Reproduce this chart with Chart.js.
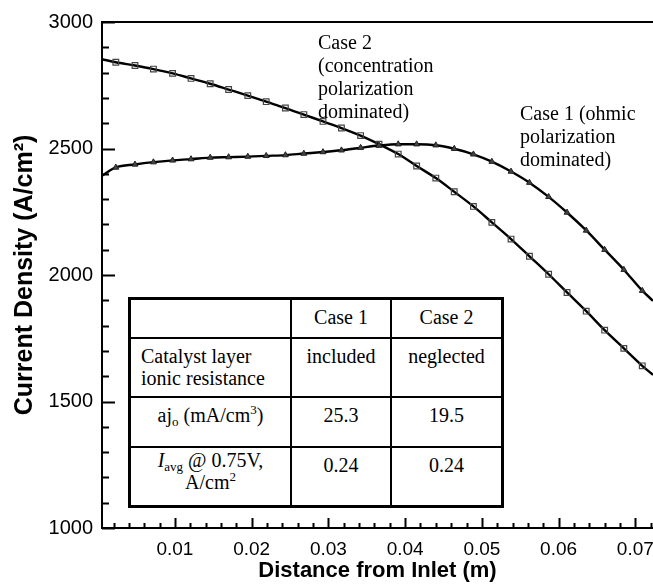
<!DOCTYPE html>
<html>
<head>
<meta charset="utf-8">
<script src="https://cdn.jsdelivr.net/npm/chart.js@4.4.0/dist/chart.umd.min.js"></script>
<style>
  html, body { margin: 0; padding: 0; background: #fff; }
  #wrap { position: relative; width: 653px; height: 584px; overflow: hidden; }
  #chart { position: absolute; left: 0; top: 0; }
  .note {
    position: absolute; font-family: "Liberation Serif", "Times New Roman", serif;
    font-size: 20px; line-height: 23px; white-space: nowrap; color: #000;
  }
  #tbl {
    position: absolute; left: 128px; top: 297px; width: 376px; height: 211px;
    box-sizing: border-box; border: 3px solid #000; background: #fff;
    font-family: "Liberation Serif", "Times New Roman", serif; font-size: 20px; line-height: 22px; color: #000;
  }
  #tbl .vl { position: absolute; top: 0; bottom: 0; width: 2px; background: #000; }
  #tbl .hl { position: absolute; left: 0; right: 0; height: 2px; background: #000; }
  #tbl .cell { position: absolute; text-align: center; white-space: nowrap; padding-top: 6px; box-sizing: border-box; }
  #tbl sub, #tbl sup { font-size: 13px; line-height: 0; vertical-align: 0; position: relative; }
  #tbl sub { top: 4px; }
  #tbl sup { top: -8px; }
</style>
</head>
<body>
<div id="wrap">
  <canvas id="chart" width="653" height="584"></canvas>

  <div class="note" style="left:318px; top:31px;">Case 2<br>(concentration<br>polarization<br>dominated)</div>
  <div class="note" style="left:520px; top:102px;">Case 1 (ohmic<br>polarization<br>dominated)</div>

  <div id="tbl">
    <div class="vl" style="left:159px;"></div>
    <div class="vl" style="left:259px;"></div>
    <div class="hl" style="top:37px;"></div>
    <div class="hl" style="top:96px;"></div>
    <div class="hl" style="top:146px;"></div>

    <div class="cell" style="left:161px; width:98px; top:0;">Case 1</div>
    <div class="cell" style="left:261px; width:109px; top:0;">Case 2</div>

    <div class="cell" style="left:10px; top:39px; text-align:left;">Catalyst layer<br>ionic resistance</div>
    <div class="cell" style="left:161px; width:98px; top:39px;">included</div>
    <div class="cell" style="left:261px; width:109px; top:39px;">neglected</div>

    <div class="cell" style="left:0; width:159px; top:98px;">aj<sub>o</sub> (mA/cm<sup>3</sup>)</div>
    <div class="cell" style="left:161px; width:98px; top:98px;">25.3</div>
    <div class="cell" style="left:261px; width:109px; top:98px;">19.5</div>

    <div class="cell" style="left:0; width:159px; top:148px; padding-top:1px;"><i>I</i><sub>avg</sub> @ 0.75V,<br>A/cm<sup>2</sup></div>
    <div class="cell" style="left:161px; width:98px; top:148px;">0.24</div>
    <div class="cell" style="left:261px; width:109px; top:148px;">0.24</div>
  </div>
</div>

<script>
// distance from inlet (m); first and last entries are the curve ends, the rest carry markers
const distance = [
  0.0005, 0.0023, 0.0048, 0.0072, 0.0097, 0.0121, 0.0146, 0.0170, 0.0195, 0.0219,
  0.0244, 0.0268, 0.0293, 0.0317, 0.0342, 0.0366, 0.0391, 0.0415, 0.0440, 0.0464,
  0.0489, 0.0513, 0.0538, 0.0562, 0.0587, 0.0611, 0.0636, 0.0660, 0.0685, 0.0709,
  0.0723
];

// Case 1 (ohmic polarization dominated), A/cm2
const case1Density = [
  2392, 2425, 2437, 2446, 2453, 2458, 2464, 2466, 2468, 2471,
  2474, 2480, 2486, 2493, 2503, 2512, 2517, 2517, 2513, 2499,
  2477, 2448, 2409, 2365, 2309, 2247, 2176, 2100, 2021, 1938,
  1898
];

// Case 2 (concentration polarization dominated), A/cm2
const case2Density = [
  2853, 2841, 2828, 2814, 2797, 2777, 2756, 2733, 2709, 2685,
  2660, 2634, 2607, 2581, 2551, 2517, 2478, 2431, 2383, 2329,
  2271, 2208, 2142, 2074, 2003, 1931, 1857, 1782, 1710, 1641,
  1605
];

const xTicks = [0.01, 0.02, 0.03, 0.04, 0.05, 0.06, 0.07];
const yTicks = [1000, 1500, 2000, 2500, 3000];

const squareRadius = distance.map((d, i) => (i === 0 || i === distance.length - 1) ? 0 : 4);
const triangleRadius = distance.map((d, i) => (i === 0 || i === distance.length - 1) ? 0 : 3.4);

const toPoints = (vals) => distance.map((d, i) => ({ x: d, y: vals[i] }));

// frame on top and tick marks pointing into the plot
const frameTicks = {
  id: 'frameTicks',
  afterDatasetsDraw(chart) {
    const { ctx, chartArea: a, scales: { x, y } } = chart;
    ctx.save();
    ctx.strokeStyle = '#000';
    ctx.lineWidth = 2;
    ctx.beginPath();
    ctx.moveTo(a.right + 2, a.top);
    ctx.lineTo(a.left, a.top);
    ctx.lineTo(a.left, a.bottom);
    ctx.lineTo(a.right + 2, a.bottom);
    ctx.stroke();

    ctx.beginPath();
    for (let v = 1000; v <= 3000; v += 100) {
      const py = Math.round(y.getPixelForValue(v)) + 0.5;
      const len = v % 500 === 0 ? 13 : 7;
      ctx.moveTo(a.left, py);
      ctx.lineTo(a.left + len, py);
    }
    for (let k = 1; k <= 36; k++) {
      const v = k * 0.002;
      if (v < x.min || v > x.max) continue;
      const px = Math.round(x.getPixelForValue(v)) + 0.5;
      const len = k % 5 === 0 ? 10 : 5;
      ctx.moveTo(px, a.bottom);
      ctx.lineTo(px, a.bottom - len);
    }
    ctx.stroke();
    ctx.restore();
  }
};

const xTickFont = { family: '"Liberation Sans", Arial, sans-serif', size: 19 };
const yTickFont = { family: '"Liberation Sans", Arial, sans-serif', size: 20 };
const xTitleFont = { family: '"Liberation Sans", Arial, sans-serif', size: 22, weight: 'bold' };
const yTitleFont = { family: '"Liberation Sans", Arial, sans-serif', size: 25, weight: 'bold' };

new Chart(document.getElementById('chart'), {
  type: 'line',
  data: {
    datasets: [
      {
        label: 'Case 1',
        data: toPoints(case1Density),
        borderColor: '#000',
        borderWidth: 2.4,
        cubicInterpolationMode: 'monotone',
        pointStyle: 'triangle',
        pointRadius: triangleRadius,
        pointBorderWidth: 1,
        pointBorderColor: '#222',
        pointBackgroundColor: '#444'
      },
      {
        label: 'Case 2',
        data: toPoints(case2Density),
        borderColor: '#000',
        borderWidth: 2.4,
        cubicInterpolationMode: 'monotone',
        pointStyle: 'rect',
        pointRadius: squareRadius,
        pointBorderWidth: 1.2,
        pointBorderColor: '#444',
        pointBackgroundColor: 'rgba(255,255,255,0)'
      }
    ]
  },
  options: {
    responsive: false,
    animation: false,
    events: [],
    layout: { padding: { top: 22, right: 0, bottom: 0, left: 0 } },
    plugins: { legend: { display: false }, tooltip: { enabled: false } },
    scales: {
      x: {
        type: 'linear',
        min: 0.0005,
        max: 0.0723,
        afterBuildTicks: (s) => { s.ticks = xTicks.map(v => ({ value: v })); },
        ticks: {
          font: xTickFont, color: '#000', padding: 10, maxRotation: 0,
          callback: (v) => v.toFixed(2)
        },
        grid: { display: false, drawTicks: false },
        border: { display: false },
        title: { display: true, text: 'Distance from Inlet (m)', font: xTitleFont, color: '#000', padding: { top: 0, bottom: 0 } },
        afterFit: (s) => { s.height = 56; s.paddingLeft = 0; s.paddingRight = 0; }
      },
      y: {
        min: 1000,
        max: 3000,
        afterBuildTicks: (s) => { s.ticks = yTicks.map(v => ({ value: v })); },
        ticks: { font: yTickFont, color: '#000', padding: 9, callback: (v) => String(v) },
        grid: { display: false, drawTicks: false },
        border: { display: false },
        title: { display: true, text: 'Current Density (A/cm²)', font: yTitleFont, color: '#000', padding: { top: 10, bottom: 0 } },
        afterFit: (s) => { s.width = 102; s.paddingTop = 0; s.paddingBottom = 0; }
      }
    }
  },
  plugins: [frameTicks]
});
</script>
</body>
</html>
